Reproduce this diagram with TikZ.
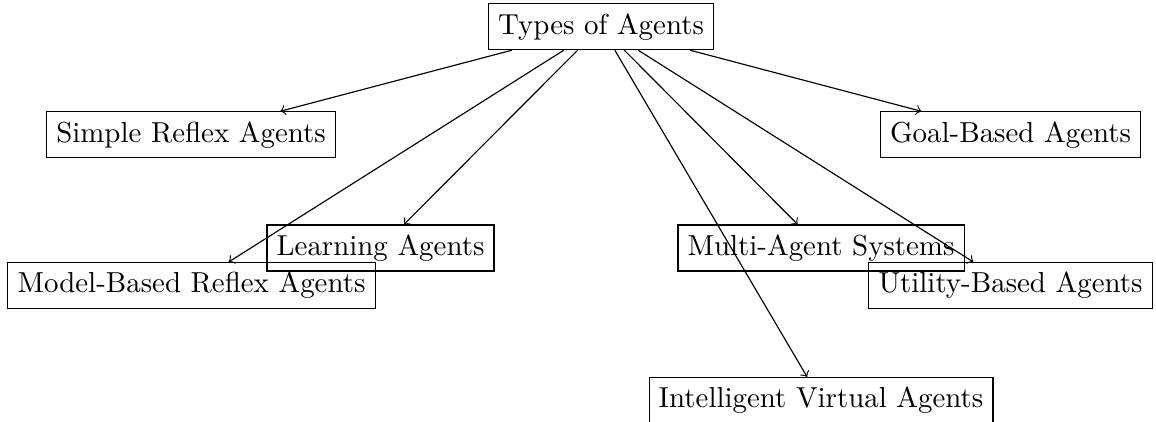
\documentclass[tikz,border=0pt]{standalone}
\begin{document}
\begin{tikzpicture}[x=0.346pt, y=-0.346pt,
  agentbox/.style={draw, rectangle},
  link/.style={->}]
  \useasboundingbox (0,0) rectangle (1156,421);
  % root and the agent kinds around it
  \node[agentbox] (root) at (601,26.7) {Types of Agents};
  \node[agentbox] (simple) at (191,134.8) {Simple Reflex Agents};
  \node[agentbox] (model) at (191.5,285.5) {Model-Based Reflex Agents};
  \node[agentbox] (learning) at (380.5,248) {Learning Agents};
  \node[agentbox] (multi) at (821,248) {Multi-Agent Systems};
  \node[agentbox] (utility) at (1010.5,285.5) {Utility-Based Agents};
  \node[agentbox] (goal) at (1010.5,134.8) {Goal-Based Agents};
  \node[agentbox] (virtual) at (821,400.5) {Intelligent Virtual Agents};
  % connectors from the root
  \foreach \n in {simple,model,learning,multi,utility,goal,virtual}
    \draw[link] (root) -- (\n);
\end{tikzpicture}
\end{document}
